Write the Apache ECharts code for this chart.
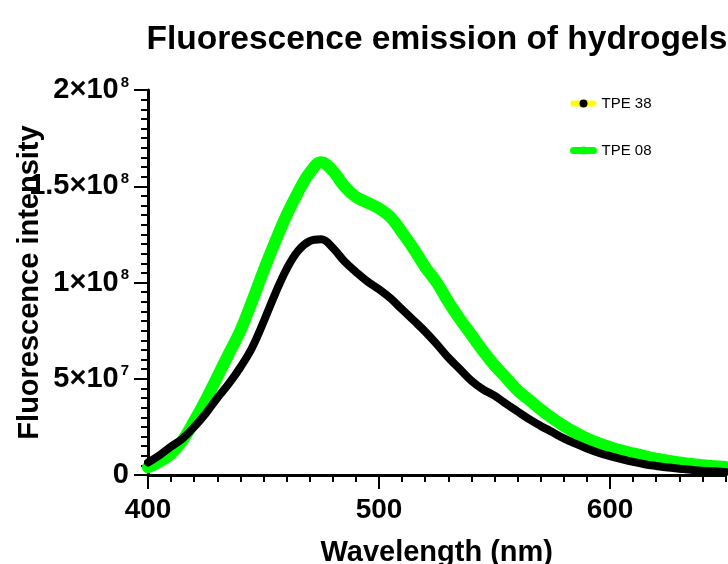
<!DOCTYPE html>
<html><head><meta charset="utf-8">
<script src="https://cdn.jsdelivr.net/npm/echarts@6/dist/echarts.min.js"></script>
<style>html,body{margin:0;padding:0;background:#fff}#c{width:728px;height:564px}</style>
</head><body><div id="c"></div>
<script>
// Wavelength (nm)
const wavelengths = [400,405,410,415,420,425,430,435,440,445,450,455,460,465,470,475,480,485,490,495,500,505,510,515,520,525,530,535,540,545,550,555,560,565,570,575,580,585,590,595,600,605,610,615,620,625,630,635,640,645,650];
// Fluorescence intensity, in millions (×1e6)
const tpe38Millions = [6.5,10.3,14.8,19,25,32,40,47.5,56,66,79.5,94,107,116.5,121.5,122.5,118,111,105.5,100.5,96.5,91.8,86,80.3,74.5,68,61,55,49,44.5,41.2,37,33,29,25.5,22.3,19,16.3,13.8,11.6,9.8,8.2,6.8,5.6,4.7,3.9,3.3,2.7,2.2,1.9,1.6];
const tpe08Millions = [4,7,11,18,28,39,51,63,75,90,106,121,135,147,157,162.5,158,150,144.5,141.5,138.5,134,126,117.5,108,100,90,81,72.8,64.5,57,50.5,44,39,34,29.5,25.5,22,19,16.5,14.5,12.7,11.2,9.8,8.5,7.4,6.5,5.7,5.1,4.6,4.2];
const xMajorTicks = [400,500,600];
const seriesNames = ['TPE 38','TPE 08'];

const FONT = '"Liberation Sans", Arial, sans-serif';
const toPairs = arr => wavelengths.map((w,i)=>[w, arr[i]*1e6]);

function yLabel(v){
  if (v === 0) return '{m|0}';
  const e = Math.floor(Math.log10(v) + 1e-9);
  const m = +(v / Math.pow(10, e)).toFixed(2);
  return '{m|' + m + '×10}{s|' + e + '}';
}

const chart = echarts.init(document.getElementById('c'), null, {renderer:'canvas'});
chart.setOption({
  animation:false,
  backgroundColor:'#fff',
  title:{text:'Fluorescence emission of hydrogels', left:432, textAlign:'center', top:18,
    textStyle:{fontSize:33.5, fontWeight:'bold', fontFamily:FONT, color:'#000'}},
  grid:{left:148, right:2.5, top:90, bottom:89, containLabel:false, outerBoundsMode:'none'},
  legend:{orient:'vertical', left:570, top:96, padding:0, itemWidth:20, itemHeight:10, itemGap:32,
    textStyle:{fontSize:15, color:'#000', fontFamily:FONT, padding:[0,0,0,3]},
    data:[
      {name:seriesNames[0], itemStyle:{color:'#000'}, lineStyle:{color:'#ffff00', width:6}},
      {name:seriesNames[1], itemStyle:{color:'#00ff00'}, lineStyle:{color:'#00ff00', width:7}}
    ]},
  xAxis:[{
    type:'value', min:400, max:650, interval:100, position:'bottom',
    axisLine:{show:true, onZero:false, lineStyle:{color:'#000', width:3}},
    axisTick:{show:true, length:14, lineStyle:{color:'#000', width:2}, customValues:xMajorTicks},
    axisLabel:{customValues:xMajorTicks, fontSize:28, fontWeight:'bold', color:'#000', fontFamily:FONT, margin:21},
    splitLine:{show:false},
    name:'Wavelength (nm)', nameLocation:'middle', nameGap:63, nameMoveOverlap:false,
    nameTextStyle:{fontSize:29, fontWeight:'bold', color:'#000', fontFamily:FONT}
  },{
    type:'value', min:400, max:650, interval:10, position:'bottom',
    axisLine:{show:false, onZero:false},
    axisTick:{show:true, length:7, lineStyle:{color:'#000', width:2}},
    axisLabel:{show:false}, splitLine:{show:false}
  }],
  yAxis:{
    type:'value', min:0, max:2e8, interval:5e7,
    axisLine:{show:true, lineStyle:{color:'#000', width:3}},
    axisTick:{show:true, length:14, lineStyle:{color:'#000', width:2}},
    minorTick:{show:true, splitNumber:10, length:7, lineStyle:{color:'#000', width:2}},
    splitLine:{show:false}, minorSplitLine:{show:false},
    axisLabel:{formatter:yLabel, margin:19, color:'#000',
      rich:{
        m:{fontSize:29, fontWeight:'bold', fontFamily:FONT, color:'#000', lineHeight:30},
        s:{fontSize:15, fontWeight:'bold', fontFamily:FONT, color:'#000', verticalAlign:'top', lineHeight:15, padding:[0,0,0,2]}
      }},
    name:'Fluorescence intensity', nameLocation:'middle', nameGap:104, nameRotate:90, nameMoveOverlap:false,
    nameTextStyle:{fontSize:29, fontWeight:'bold', color:'#000', fontFamily:FONT}
  },
  series:[
    {name:seriesNames[1], type:'line', data:toPairs(tpe08Millions), smooth:0.4, symbol:'circle', showSymbol:false,
     lineStyle:{color:'#00ff00', width:12, join:'round', cap:'round'}, itemStyle:{color:'#00ff00'}, z:2, emphasis:{disabled:true}},
    {name:seriesNames[0], type:'line', data:toPairs(tpe38Millions), smooth:0.4, symbol:'circle', showSymbol:false,
     lineStyle:{color:'#000', width:8, join:'round', cap:'round'}, itemStyle:{color:'#000'}, z:3, emphasis:{disabled:true}}
  ]
});
</script></body></html>
